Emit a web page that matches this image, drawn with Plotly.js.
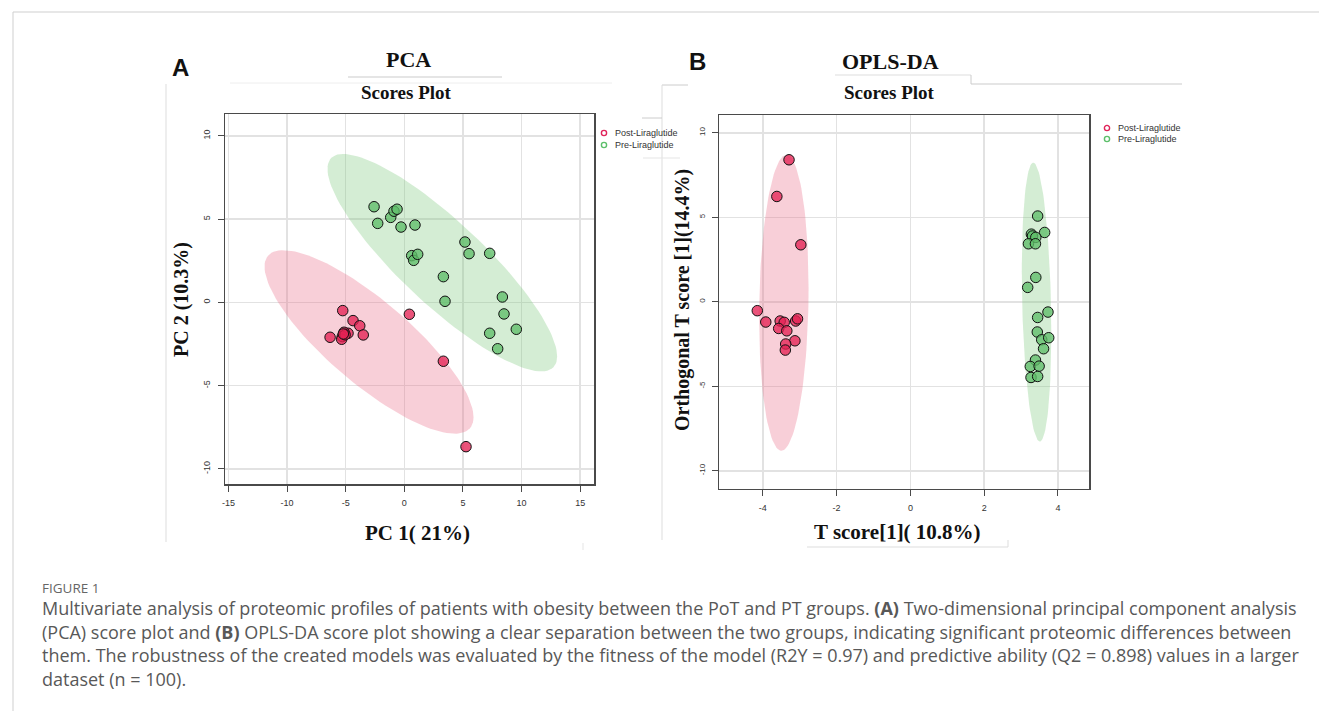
<!DOCTYPE html>
<html>
<head>
<meta charset="utf-8">
<script src="https://cdn.plot.ly/plotly-3.0.1.min.js"></script>
<style>
html,body{margin:0;padding:0;background:#fff;overflow:hidden;}
#chart{width:1319px;height:711px;}
</style>
</head>
<body>
<div id="chart"></div>
<script>
// ---------- DATA ----------
const groups = ["Post-Liraglutide", "Pre-Liraglutide"];

// PCA scores (PC1, PC2)
const pcaPostX = [-5.25, -4.37, -3.80, -3.50, -4.80, -5.14, -5.29, -5.34, -6.33, 0.43, 3.33, 5.26, -5.05, -5.20];
const pcaPostY = [-0.50, -1.10, -1.41, -1.96, -1.86, -1.80, -2.06, -2.22, -2.10, -0.72, -3.54, -8.67, -1.95, -1.90];
const pcaPreX  = [-2.58, -2.27, -1.16, -0.88, -0.62, -0.28, 0.91, 0.63, 0.80, 1.14, 5.17, 5.52, 7.28, 3.33, 3.47, 8.36, 8.50, 9.55, 7.28, 7.96];
const pcaPreY  = [5.74, 4.74, 5.10, 5.47, 5.59, 4.52, 4.64, 2.80, 2.52, 2.88, 3.62, 2.92, 2.94, 1.54, 0.06, 0.32, -0.70, -1.62, -1.86, -2.79];

// OPLS-DA scores (T score[1], Orthogonal T score[1])
const oplsPostX = [-3.29, -3.62, -2.97, -4.15, -3.92, -3.53, -3.42, -3.57, -3.35, -3.11, -3.06, -3.13, -3.38, -3.39];
const oplsPostY = [8.40, 6.23, 3.37, -0.53, -1.20, -1.14, -1.22, -1.58, -1.72, -1.14, -1.01, -2.31, -2.50, -2.86];
const oplsPreX  = [3.45, 3.64, 3.28, 3.31, 3.40, 3.20, 3.39, 3.40, 3.18, 3.73, 3.45, 3.44, 3.56, 3.75, 3.61, 3.39, 3.25, 3.49, 3.27, 3.45];
const oplsPreY  = [5.07, 4.10, 4.00, 3.89, 3.81, 3.43, 3.43, 1.44, 0.85, -0.61, -0.93, -1.79, -2.25, -2.13, -2.78, -3.45, -3.83, -3.81, -4.48, -4.42];

// 95% confidence ellipses: [Post, Pre] -> centre, half-extent in x and y, correlation
const pcaEllCx = [-3.01, 3.24];
const pcaEllCy = [-2.38, 2.38];
const pcaEllSx = [8.91, 9.79];
const pcaEllSy = [5.51, 6.53];
const pcaEllR  = [-0.820, -0.862];
const oplsEllCx = [-3.43, 3.42];
const oplsEllCy = [-0.06, -0.02];
const oplsEllSx = [0.67, 0.40];
const oplsEllSy = [8.75, 8.25];
const oplsEllR  = [0.10, -0.22];

const pcaXTicks = [-15, -10, -5, 0, 5, 10, 15];
const pcaYTicks = [-10, -5, 0, 5, 10];
const oplsXTicks = [-4, -2, 0, 2, 4];
const oplsYTicks = [-10, -5, 0, 5, 10];

const captionLines = [
  "Multivariate analysis of proteomic profiles of patients with obesity between the PoT and PT groups. <b>(A)</b> Two-dimensional principal component analysis",
  "(PCA) score plot and <b>(B)</b> OPLS-DA score plot showing a clear separation between the two groups, indicating significant proteomic differences between",
  "them. The robustness of the created models was evaluated by the fitness of the model (R2Y = 0.97) and predictive ability (Q2 = 0.898) values in a larger",
  "dataset (n = 100)."
];

// ---------- STYLE ----------
const W = 1319, H = 711;
const px = v => v / W;
const py = v => 1 - v / H;
const markerFill = ["rgba(228,35,85,0.78)", "rgba(95,190,105,0.78)"];
const legendCol = ["#e0245a", "#5cbf6a"];
const ellFill = ["rgba(232,105,135,0.32)", "rgba(125,200,125,0.33)"];
const serif = "Liberation Serif, Times New Roman, serif";
const sans = "Liberation Sans, Arial, sans-serif";

function ellipse(cx, cy, sx, sy, r) {
  const xs = [], ys = [];
  const s = Math.sqrt(1 - r * r);
  for (let i = 0; i <= 120; i++) {
    const t = 2 * Math.PI * i / 120;
    xs.push(cx + sx * Math.cos(t));
    ys.push(cy + sy * (r * Math.cos(t) + s * Math.sin(t)));
  }
  return {xs, ys};
}

const traces = [];
[0, 1].forEach(g => {
  const e = ellipse(pcaEllCx[g], pcaEllCy[g], pcaEllSx[g], pcaEllSy[g], pcaEllR[g]);
  traces.push({x: e.xs, y: e.ys, xaxis: "x", yaxis: "y", type: "scatter", mode: "lines",
    fill: "toself", fillcolor: ellFill[g], line: {width: 0, color: "rgba(0,0,0,0)"},
    hoverinfo: "skip", showlegend: false});
  const f = ellipse(oplsEllCx[g], oplsEllCy[g], oplsEllSx[g], oplsEllSy[g], oplsEllR[g]);
  traces.push({x: f.xs, y: f.ys, xaxis: "x2", yaxis: "y2", type: "scatter", mode: "lines",
    fill: "toself", fillcolor: ellFill[g], line: {width: 0, color: "rgba(0,0,0,0)"},
    hoverinfo: "skip", showlegend: false});
});
const pcaSets = [[pcaPostX, pcaPostY], [pcaPreX, pcaPreY]];
const oplsSets = [[oplsPostX, oplsPostY], [oplsPreX, oplsPreY]];
[0, 1].forEach(g => {
  traces.push({x: pcaSets[g][0], y: pcaSets[g][1], xaxis: "x", yaxis: "y", type: "scatter", mode: "markers",
    name: groups[g], marker: {size: 10.5, color: markerFill[g], line: {color: "#111", width: 1}}, showlegend: false});
  traces.push({x: oplsSets[g][0], y: oplsSets[g][1], xaxis: "x2", yaxis: "y2", type: "scatter", mode: "markers",
    name: groups[g], marker: {size: 10.5, color: markerFill[g], line: {color: "#111", width: 1}}, showlegend: false});
});

function axisBase(domain, range, ticks, anchor) {
  return {domain, range, anchor, tickvals: ticks, ticktext: ticks.map(String),
    showgrid: true, gridcolor: "#e2e2e2", gridwidth: 1.5, zeroline: false,
    showline: true, mirror: true, linecolor: "#4a4a4a", linewidth: 1.2,
    ticks: "outside", ticklen: 6, tickcolor: "#4a4a4a", tickwidth: 1,
    tickfont: {family: sans, size: 9, color: "#333"}, ticklabelstandoff: 4};
}

const xa = axisBase([px(225), px(594.3)], [-15.29, 16.2], pcaXTicks, "y");
const ya = axisBase([py(484.3), py(114.3)], [-10.93, 11.29], pcaYTicks, "x");
ya.tickangle = -90;
const xb = axisBase([px(719.3), px(1089.3)], [-5.18, 4.85], oplsXTicks, "y2");
const yb = axisBase([py(489), py(115)], [-11.08, 11.05], oplsYTicks, "x2");
yb.tickangle = -90; yb.tickfont = {family: sans, size: 8, color: "#333"};

const ann = (x, y, text, size, opts) => Object.assign({xref: "paper", yref: "paper", x: px(x), y: py(y),
  text, showarrow: false, xanchor: "center", yanchor: "middle",
  font: {family: serif, size, color: "#111"}}, opts || {});

const annotations = [
  ann(180, 67, "<b>A</b>", 24, {font: {family: sans, size: 24, color: "#111"}}),
  ann(697, 61, "<b>B</b>", 24, {font: {family: sans, size: 24, color: "#111"}}),
  ann(408, 60, "<b>PCA</b>", 22),
  ann(406, 92, "<b>Scores Plot</b>", 19),
  ann(890, 62, "<b>OPLS-DA</b>", 22),
  ann(889, 92, "<b>Scores Plot</b>", 19),
  ann(417, 533, "<b>PC 1( 21%)</b>", 21),
  ann(182, 300, "<b>PC 2 (10.3%)</b>", 20, {textangle: -90}),
  ann(897, 532, "<b>T score[1]( 10.8%)</b>", 21),
  ann(683, 300, "<b>Orthogonal T score [1](14.4%)</b>", 20, {textangle: -90}),
  ann(40, 588, "FIGURE 1", 13, {xanchor: "left", font: {family: "Open Sans", size: 13.5, color: "#666"}})
];
const capY = [608, 632, 655, 679];
captionLines.forEach((t, i) => annotations.push(
  ann(40, capY[i], t, 18, {xanchor: "left", font: {family: "Open Sans", size: 18, color: "#585858"}})));

// legends (open circle key + label), one per panel
const shapes = [];
const legendPos = [[604, 133, 12], [1107, 128, 11]];
legendPos.forEach(([lx, ly, dy]) => {
  [0, 1].forEach(g => {
    const cy = ly + g * dy;
    shapes.push({type: "circle", xref: "paper", yref: "paper",
      x0: px(lx - 2.6), x1: px(lx + 2.6), y0: py(cy + 2.6), y1: py(cy - 2.6),
      line: {color: legendCol[g], width: 1.4}, fillcolor: "rgba(0,0,0,0)"});
    annotations.push(ann(lx + 9, cy, groups[g], 9, {xanchor: "left",
      font: {family: sans, size: 9, color: "#333"}}));
  });
});

const ln = (x0, y0, x1, y1, c, w) => ({type: "line", xref: "paper", yref: "paper",
  x0: px(x0), y0: py(y0), x1: px(x1), y1: py(y1), line: {color: c || "#d0d0d0", width: w || 1}});
shapes.push(
  ln(13, 12, 1319, 12, "#cfcfcf", 1),
  ln(13, 12, 13, 711, "#cfcfcf", 1),
  ln(348, 77, 502, 77, "#cccccc", 1.2),
  ln(230, 83, 612, 83, "#eeeeee", 1),
  ln(166, 84, 166, 542, "#dddddd", 1),
  ln(583, 543, 583, 550, "#e5e5e5", 1),
  ln(662, 85, 688, 85, "#cccccc", 1),
  ln(662, 85, 662, 540, "#dddddd", 1),
  ln(642, 118, 662, 118, "#cccccc", 1),
  ln(643, 158, 680, 158, "#e5e5e5", 1),
  ln(835, 75, 971, 75, "#dddddd", 1),
  ln(971, 75, 971, 84, "#cccccc", 1),
  ln(971, 84, 1182, 84, "#cccccc", 1.2),
  ln(807, 547, 1008, 547, "#dddddd", 1),
  ln(1008, 540, 1008, 547, "#dddddd", 1)
);

const layout = {
  width: W, height: H, margin: {l: 0, r: 0, t: 0, b: 0},
  paper_bgcolor: "#fff", plot_bgcolor: "#fff",
  xaxis: xa, yaxis: ya, xaxis2: xb, yaxis2: yb,
  showlegend: false,
  annotations, shapes
};

Plotly.newPlot("chart", traces, layout, {displayModeBar: false, staticPlot: true});
</script>
</body>
</html>
